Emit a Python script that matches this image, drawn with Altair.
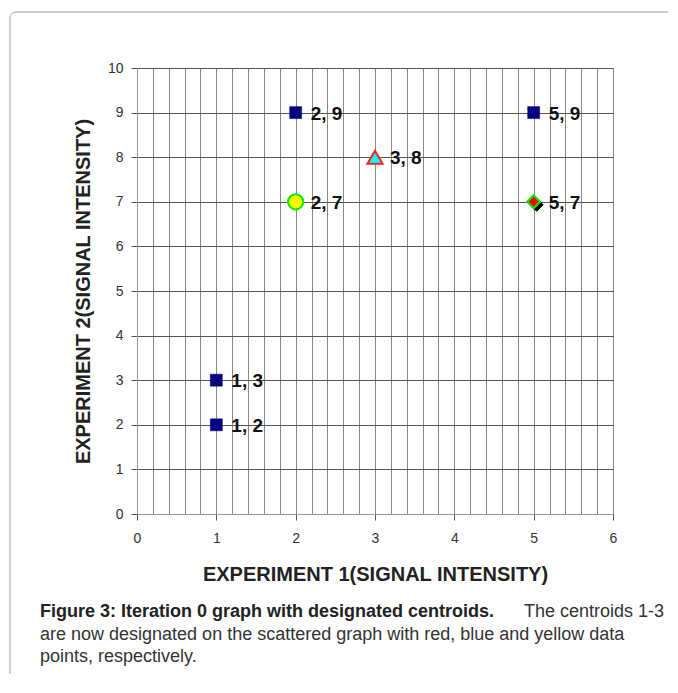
import altair as alt
import pandas as pd

# ---- data ----
point_x = [1, 1, 2, 5, 2, 3, 5]
point_y = [2, 3, 9, 9, 7, 8, 7]
point_kind = ["data", "data", "data", "data", "yellow", "blue", "red"]
point_label = ["1, 2", "1, 3", "2, 9", "5, 9", "2, 7", "3, 8", "5, 7"]

x_grid_values = [0, 0.2, 0.4, 0.6, 0.8, 1, 1.2, 1.4, 1.6, 1.8, 2, 2.2, 2.4, 2.6, 2.8,
                 3, 3.2, 3.4, 3.6, 3.8, 4, 4.2, 4.4, 4.6, 4.8, 5, 5.2, 5.4, 5.6, 5.8, 6]
y_tick_values = [0, 1, 2, 3, 4, 5, 6, 7, 8, 9, 10]

x_title = "EXPERIMENT 1(SIGNAL INTENSITY)"
y_title = "EXPERIMENT 2(SIGNAL INTENSITY)"

caption_bold = "Figure 3: Iteration 0 graph with designated centroids."
caption_line1_rest = "The centroids 1-3"
caption_line2 = "are now designated on the scattered graph with red, blue and yellow data"
caption_line3 = "points, respectively."

df = pd.DataFrame({"x": point_x, "y": point_y, "kind": point_kind, "label": point_label})

FONT = "Liberation Sans"
CAP_FONT = "Liberation Sans"

x_enc = alt.X(
    "x:Q",
    scale=alt.Scale(domain=[0, 6], nice=False, zero=False),
    axis=alt.Axis(
        values=x_grid_values,
        labelExpr="datum.value % 1 === 0 ? format(datum.value, 'd') : ''",
        tickOpacity={"condition": {"test": "datum.value % 1 === 0", "value": 1}, "value": 0},
        grid=True, gridColor="#888", gridOpacity=1, gridWidth=1,
        tickColor="#555", tickSize=6, domainColor="#999",
        labelFont=FONT, labelFontSize=14, labelColor="#333", labelPadding=11,
        labelFlush=False, labelOverlap=False,
        title=x_title, titleFont=FONT, titleFontSize=20, titleFontWeight="bold",
        titleColor="#222", titlePadding=19,
    ),
)
y_enc = alt.Y(
    "y:Q",
    scale=alt.Scale(domain=[0, 10], nice=False, zero=False),
    axis=alt.Axis(
        values=y_tick_values,
        grid=True, gridColor="#555", gridOpacity=1, gridWidth=1,
        tickColor="#555", tickSize=6, domainColor="#999",
        labelFont=FONT, labelFontSize=14, labelColor="#333", labelPadding=8,
        labelFlush=False,
        title=y_title, titleFont=FONT, titleFontSize=20, titleFontWeight="bold",
        titleColor="#222", titlePadding=14,
    ),
)

base = alt.Chart(df).encode(x=x_enc, y=y_enc)

squares = base.transform_filter(alt.datum.kind == "data").mark_point(
    shape="square", size=144, fill="#000080", stroke="#000080", strokeWidth=0.5,
    opacity=1, fillOpacity=1)

shadow = base.transform_filter(alt.datum.kind == "red").mark_point(
    shape="diamond", size=170, fill="#000000", stroke="#000000", strokeWidth=1,
    opacity=1, fillOpacity=1, xOffset=3, yOffset=3)
red = base.transform_filter(alt.datum.kind == "red").mark_point(
    shape="diamond", size=170, fill="#ff0000", stroke="#00ee00", strokeWidth=2,
    opacity=1, fillOpacity=1)
yellow = base.transform_filter(alt.datum.kind == "yellow").mark_point(
    shape="circle", size=230, fill="#ffff00", stroke="#00ee00", strokeWidth=2,
    opacity=1, fillOpacity=1)
blue = base.transform_filter(alt.datum.kind == "blue").mark_point(
    shape="triangle-up", size=230, fill="#00ffff", stroke="#ff2020", strokeWidth=2,
    opacity=1, fillOpacity=1)

labels = base.mark_text(
    align="left", baseline="middle", dx=15, dy=1, font=FONT, fontSize=19,
    fontWeight="bold", color="#111").encode(text="label:N")

one = pd.DataFrame({"t": [caption_bold]})

border = alt.Chart(one).mark_rect(
    fill="#ffffff", fillOpacity=0, stroke="#a0a0a0", strokeWidth=1, cornerRadius=6
).encode(x=alt.value(-127), x2=alt.value(560), y=alt.value(-56), y2=alt.value(700))

cap1 = alt.Chart(pd.DataFrame({"t": [caption_bold]})).mark_text(
    align="left", baseline="middle", font=CAP_FONT, fontSize=18, fontWeight="bold",
    color="#222").encode(text="t:N", x=alt.value(-97), y=alt.value(544))
cap1b = alt.Chart(pd.DataFrame({"t": [caption_line1_rest]})).mark_text(
    align="right", baseline="middle", font=CAP_FONT, fontSize=18,
    color="#333").encode(text="t:N", x=alt.value(527), y=alt.value(544))
cap2 = alt.Chart(pd.DataFrame({"t": [caption_line2]})).mark_text(
    align="left", baseline="middle", font=CAP_FONT, fontSize=18,
    color="#333").encode(text="t:N", x=alt.value(-97), y=alt.value(566.5))
cap3 = alt.Chart(pd.DataFrame({"t": [caption_line3]})).mark_text(
    align="left", baseline="middle", font=CAP_FONT, fontSize=18,
    color="#333").encode(text="t:N", x=alt.value(-97), y=alt.value(589))

chart = alt.layer(
    border, squares, shadow, red, yellow, blue, labels, cap1, cap1b, cap2, cap3
).properties(
    width=476, height=446,
    autosize=alt.AutoSizeParams(type="none"),
    padding={"left": 129, "top": 60, "right": 55, "bottom": 160},
    background="#ffffff",
).configure_view(stroke="#bbbbbb", strokeWidth=1)

chart.save("out.html", embed_options={"renderer": "svg", "actions": False})
